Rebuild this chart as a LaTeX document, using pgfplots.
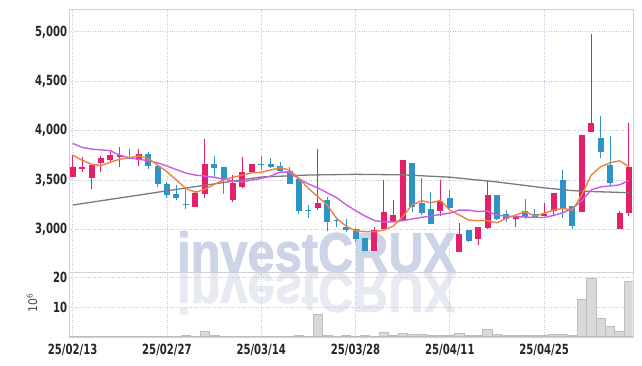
\documentclass[border=0pt]{standalone}
\usepackage{fontspec}
\setmainfont{DejaVu Sans Condensed}
\newfontfamily\wmfont[BoldFont={Liberation Sans Bold}, BoldFeatures={FakeBold=1.8}]{Liberation Sans}
\usepackage{pgfplots}
\pgfplotsset{compat=1.18}
\usepackage{pgfplotstable}

\definecolor{upc}{HTML}{E5206A}
\definecolor{dnc}{HTML}{2E94C8}
\definecolor{maA}{HTML}{EE8244}
\definecolor{maB}{HTML}{C95CE8}
\definecolor{maC}{HTML}{7A7A7A}
\definecolor{gridc}{HTML}{C2C6DC}
\definecolor{framec}{HTML}{CFD0DA}
\definecolor{wm}{HTML}{CDD4E8}
\definecolor{wmr}{HTML}{E8EAF3}
\definecolor{volc}{HTML}{D9D9D9}
\definecolor{vole}{HTML}{BDBDBD}

% up (red) candles
\pgfplotstableread{
idx open high low close
0 3532 3752 3532 3634
1 3607 3735 3583 3634
2 3516 3651 3405 3651
3 3674 3742 3580 3722
4 3704 3792 3684 3752
5 3729 3836 3630 3752
7 3698 3810 3644 3759
13 3229 3391 3229 3370
14 3360 3911 3320 3661
17 3297 3550 3273 3466
18 3425 3735 3415 3577
19 3583 3658 3567 3658
26 3213 3810 3195 3266
32 2783 3020 2783 2990
33 3004 3498 3004 3173
34 3071 3294 3071 3145
35 3087 3700 3087 3700
39 3188 3499 3138 3286
41 2767 3060 2767 2953
43 2905 3020 2838 3020
44 3016 3489 3000 3347
47 3101 3135 3026 3135
50 3135 3269 3135 3155
51 3188 3367 3145 3367
54 3172 3955 3172 3955
55 3988 4974 3988 4072
58 3000 3185 3000 3162
59 3162 4079 3135 3634
}\uptab

% down (blue) candles
\pgfplotstableread{
idx open high low close
6 3722 3813 3712 3712
8 3759 3782 3610 3638
9 3644 3650 3425 3458
10 3458 3482 3314 3347
11 3357 3448 3297 3320
12 3258 3415 3205 3248
15 3661 3742 3516 3624
16 3631 3631 3354 3499
20 3663 3745 3600 3653
21 3661 3718 3617 3634
22 3641 3684 3590 3590
23 3590 3634 3458 3458
24 3510 3516 3152 3186
25 3192 3246 3110 3182
27 3297 3330 2983 3077
28 3092 3120 3020 3085
29 3026 3104 2976 2993
30 3000 3010 2875 2902
31 2910 2915 2783 2783
36 3671 3671 3173 3224
37 3263 3516 3145 3168
38 3205 3380 3053 3053
40 3320 3398 3215 3219
42 2991 2991 2868 2883
45 3347 3347 3094 3104
46 3155 3195 3077 3104
48 3188 3304 3104 3128
49 3155 3202 3110 3121
52 3499 3600 3111 3202
53 3236 3236 3000 3036
56 3927 4150 3718 3785
57 3651 3947 3448 3472
}\dntab

\pgfplotstableread{
idx ma
0 3750
1 3700
2 3660
3 3644
4 3680
5 3710
6 3725
7 3742
8 3718
9 3651
10 3583
11 3499
12 3415
13 3375
14 3405
15 3455
16 3499
17 3527
18 3549
19 3573
20 3577
21 3600
22 3624
23 3600
24 3516
25 3415
26 3330
27 3246
28 3110
29 3033
30 2986
31 2976
32 2976
33 2993
34 3033
35 3128
36 3246
37 3290
38 3269
39 3293
40 3195
41 3145
42 3094
43 3087
44 3087
45 3067
46 3111
47 3145
48 3178
49 3135
50 3162
51 3195
52 3212
53 3195
54 3347
55 3549
56 3634
57 3674
58 3694
59 3634
}\maAtab

\pgfplotstableread{
idx ma
0 3870
1 3830
2 3812
3 3805
4 3796
5 3750
6 3725
7 3710
8 3695
9 3674
10 3641
11 3605
12 3570
13 3549
14 3540
15 3526
16 3510
17 3490
18 3480
19 3499
20 3515
21 3540
22 3580
23 3580
24 3510
25 3460
26 3420
27 3370
28 3320
29 3250
30 3190
31 3135
32 3090
33 3075
34 3075
35 3088
36 3105
37 3121
38 3135
39 3150
40 3165
41 3195
42 3195
43 3180
44 3185
45 3142
46 3135
47 3128
48 3125
49 3120
50 3120
51 3140
52 3170
53 3210
54 3290
55 3400
56 3430
57 3440
58 3450
59 3495
}\maBtab

\pgfplotstableread{
idx ma
0 3246
5 3318
10 3390
15 3460
20 3530
25 3550
30 3557
35 3552
40 3528
45 3480
50 3420
53 3392
55 3383
59 3371
}\maCtab

\pgfplotstableread{
idx vol
0 0.05
1 0.05
2 0.05
3 0.05
4 0.05
5 0.05
6 0.05
7 0.05
8 0.05
9 0.05
10 0.05
11 0.05
12 0.4
13 0.05
14 1.8
15 0.4
16 0.05
17 0.05
18 0.05
19 0.05
20 0.05
21 0.05
22 0.05
23 0.05
24 0.3
25 0.05
26 7.5
27 0.3
28 0.05
29 0.3
30 0.05
31 0.3
32 0.05
33 1.5
34 0.3
35 1.0
36 0.6
37 0.8
38 0.3
39 0.5
40 0.5
41 1.0
42 0.3
43 0.3
44 2.5
45 0.6
46 0.3
47 0.3
48 0.5
49 0.3
50 0.3
51 0.6
52 0.6
53 0.3
54 12.6
55 19.8
56 6.1
57 3.5
58 1.8
59 18.9
}\voltab

\pgfplotsset{
  common/.style={
    scale only axis, width=564pt,
    xmin=-0.42, xmax=59.4,
    axis line style={framec},
    major tick length=0pt,
    grid=major,
    grid style={gridc, dotted, line width=0.7pt},
    xtick={0,10,20,30,40,50},
    tick label style={font=\bfseries\fontsize{14}{14}\selectfont, text=black!85, xscale=0.8},
    xticklabel style={yshift=-3.5pt},
    yticklabel style={xshift=1.5pt},
    /pgf/number format/assume math mode=true,
  },
}

\begin{document}
\begin{tikzpicture}
\path[use as bounding box] (0pt,0pt) rectangle (642pt,-366pt);

% watermark
\node[anchor=base west, inner sep=0pt, text=wmr, yscale=-1, xscale=0.87,
      font=\wmfont\bfseries\fontsize{56}{56}\selectfont] at (177pt,-273pt) {investCRUX};
\node[anchor=base west, inner sep=0pt, text=wm, xscale=0.87,
      font=\wmfont\bfseries\fontsize{56}{56}\selectfont] at (177pt,-272pt) {investCRUX};

% price panel
\begin{axis}[common,
  at={(68.7pt,-9.3pt)}, anchor=north west, height=262.7pt,
  ymin=2568, ymax=5228,
  ytick={3000,3500,4000,4500,5000},
  scaled y ticks=false,
  yticklabel style={/pgf/number format/.cd, 1000 sep={,}},
  xticklabels={},
]
% wicks
\addplot[draw=none, mark=none, forget plot,
  error bars/.cd, y dir=both, y explicit, error mark=none,
  error bar style={draw=upc, line width=1.1pt}]
  table[x=idx, y=close, y error plus expr=\thisrow{high}-\thisrow{close}, y error minus expr=\thisrow{close}-\thisrow{low}] {\uptab};
\addplot[draw=none, mark=none, forget plot,
  error bars/.cd, y dir=both, y explicit, error mark=none,
  error bar style={draw=dnc, line width=1.1pt}]
  table[x=idx, y=close, y error plus expr=\thisrow{high}-\thisrow{close}, y error minus expr=\thisrow{close}-\thisrow{low}] {\dntab};
% bodies
\addplot[draw=none, mark=none, forget plot,
  error bars/.cd, y dir=both, y explicit, error mark=none,
  error bar style={draw=upc, line width=6pt}]
  table[x=idx, y=close, y error plus expr=0, y error minus expr=\thisrow{close}-\thisrow{open}] {\uptab};
\addplot[draw=none, mark=none, forget plot,
  error bars/.cd, y dir=both, y explicit, error mark=none,
  error bar style={draw=dnc, line width=6pt}]
  table[x=idx, y=close, y error plus expr=\thisrow{open}-\thisrow{close}, y error minus expr=0] {\dntab};
% moving averages
\addplot[maC, line width=1.3pt, mark=none] table[x=idx, y=ma] {\maCtab};
\addplot[maB, line width=1.4pt, mark=none] table[x=idx, y=ma] {\maBtab};
\addplot[maA, line width=1.4pt, mark=none] table[x=idx, y=ma] {\maAtab};
\end{axis}

% volume panel
\begin{axis}[common,
  at={(68.7pt,-272pt)}, anchor=north west, height=65pt,
  ymin=-0.24, ymax=21.95,
  ytick={10,20},
  xticklabels={25/02/13,25/02/27,25/03/14,25/03/28,25/04/11,25/04/25},
]
\addplot[ybar, bar width=9.43pt, fill=volc, draw=vole, line width=0.6pt] table[x=idx, y=vol] {\voltab};
\end{axis}

\node[rotate=90, font=\fontsize{12}{12}\selectfont, text=black!70] at (32pt,-303pt) {10\textsuperscript{6}};
\end{tikzpicture}
\end{document}
